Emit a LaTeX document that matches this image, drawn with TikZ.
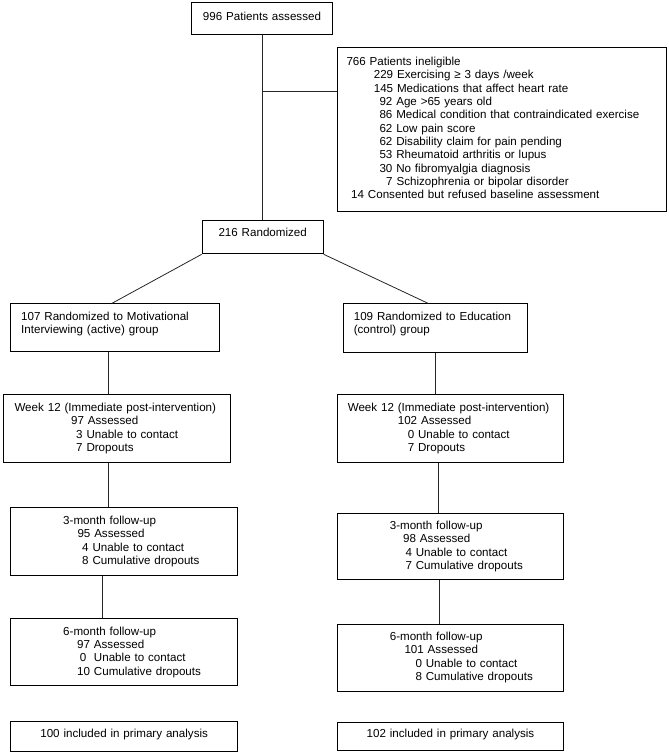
\documentclass[tikz,border=0pt]{standalone}
\usepackage{fontspec}
\setmainfont{Liberation Sans}
\tikzset{
    mybox/.style = {rectangle, draw=black, line width=1pt, anchor=north west, inner ysep=0pt, align=left, font=\fontsize{11.6}{13.33}\selectfont, text=black},
    myboxc/.style = {mybox, align=center},
    edgen/.style = {-, line width=0.8pt, black!85},
}

\begin{document}
\begin{tikzpicture}[x=1pt, y=-1pt]
  \useasboundingbox (0,0) rectangle (669,756);

  % screening
  \node[myboxc, text width=133pt, inner xsep=4pt, text height=18pt, text depth=13.5pt] (assess) at (191,2) {996 Patients assessed};
  \node[mybox, text width=310.4pt, inner xsep=9.3pt, text height=17.7pt, text depth=146pt] (inel) at (336.7,47.3)
    {766 Patients ineligible\\
     \hspace*{27.3pt}229 Exercising ≥ 3 days /week\\
     \hspace*{27.3pt}145 Medications that affect heart rate\\
     \hspace*{33pt}92 Age >65 years old\\
     \hspace*{33pt}86 Medical condition that contraindicated exercise\\
     \hspace*{33pt}62 Low pain score\\
     \hspace*{33pt}62 Disability claim for pain pending\\
     \hspace*{33pt}53 Rheumatoid arthritis or lupus\\
     \hspace*{33pt}30 No fibromyalgia diagnosis\\
     \hspace*{39.7pt}7 Schizophrenia or bipolar disorder\\
     \hspace*{4.7pt}14 Consented but refused baseline assessment};
  \node[myboxc, text width=113pt, inner xsep=4pt, text height=15.7pt, text depth=17.3pt] (rand) at (201.7,220.3) {216 Randomized};

  % groups
  \node[mybox, text width=187.6pt, inner xsep=10.7pt, text height=16.4pt, text depth=31.6pt] (grpA) at (10,303.3)
    {107 Randomized to Motivational\\ Interviewing (active) group};
  \node[mybox, text width=163.4pt, inner xsep=10pt, text height=16.4pt, text depth=32pt] (grpB) at (343.3,303.3)
    {109 Randomized to Education\\ (control) group};

  % week 12
  \node[mybox, text width=205.3pt, inner xsep=10.7pt, text height=17pt, text depth=51pt] (weekA) at (3.3,394)
    {Week 12 (Immediate post-intervention)\\
     \hspace*{56.7pt}97 Assessed\\
     \hspace*{61.7pt}3 Unable to contact\\
     \hspace*{61.7pt}7 Dropouts};
  \node[mybox, text width=205.4pt, inner xsep=10.6pt, text height=17pt, text depth=51pt] (weekB) at (336.7,394)
    {Week 12 (Immediate post-intervention)\\
     \hspace*{50pt}102 Assessed\\
     \hspace*{60pt}0 Unable to contact\\
     \hspace*{60pt}7 Dropouts};

  % follow-ups
  \node[mybox, text width=207.3pt, inner xsep=10pt, text height=16.7pt, text depth=51pt] (mthreeA) at (10,507.3)
    {\hspace*{42.7pt}3-month follow-up\\
     \hspace*{57pt}95 Assessed\\
     \hspace*{61.7pt}4 Unable to contact\\
     \hspace*{61.7pt}8 Cumulative dropouts};
  \node[mybox, text width=206.6pt, inner xsep=10pt, text height=16.3pt, text depth=50.3pt] (mthreeB) at (336.7,512.7)
    {\hspace*{42.6pt}3-month follow-up\\
     \hspace*{56pt}98 Assessed\\
     \hspace*{58.3pt}4 Unable to contact\\
     \hspace*{58.3pt}7 Cumulative dropouts};
  \node[mybox, text width=207.3pt, inner xsep=10pt, text height=16.4pt, text depth=50.3pt] (msixA) at (10,618.3)
    {\hspace*{42.7pt}6-month follow-up\\
     \hspace*{56.7pt}97 Assessed\\
     \hspace*{59.3pt}0\ \ Unable to contact\\
     \hspace*{56.7pt}10 Cumulative dropouts};
  \node[mybox, text width=206.6pt, inner xsep=10pt, text height=16pt, text depth=51pt] (msixB) at (336.7,624)
    {\hspace*{42.6pt}6-month follow-up\\
     \hspace*{57.3pt}101 Assessed\\
     \hspace*{68.3pt}0 Unable to contact\\
     \hspace*{68.3pt}8 Cumulative dropouts};

  % analysis
  \node[myboxc, text width=219.3pt, inner xsep=4pt, text height=16.3pt, text depth=13.4pt] (finA) at (10,721) {100 included in primary analysis};
  \node[myboxc, text width=218.6pt, inner xsep=4pt, text height=15.6pt, text depth=12.7pt] (finB) at (336.7,721.7) {102 included in primary analysis};

  % connectors
  \coordinate (split) at ([yshift=-56.8pt]assess.south);
  \draw[edgen] (assess.south) -- (assess.south |- rand.north);
  \draw[edgen] (split) -- (split -| inel.west);
  \draw[edgen] (rand.south west) -- ([xshift=102pt]grpA.north west);
  \draw[edgen] (rand.south east) -- ([xshift=84.7pt]grpB.north west);
  \draw[edgen] ([xshift=98.7pt]grpA.south west) -- ([xshift=105.4pt]weekA.north west);
  \draw[edgen] ([xshift=105.2pt]weekA.south west) -- ([xshift=98.5pt]mthreeA.north west);
  \draw[edgen] ([xshift=92.7pt]mthreeA.south west) -- ([xshift=92.7pt]msixA.north west);
  \draw[edgen] ([xshift=91.7pt]grpB.south west) -- ([xshift=98.3pt]weekB.north west);
  \draw[edgen] ([xshift=102pt]weekB.south west) -- ([xshift=102pt]mthreeB.north west);
  \draw[edgen] ([xshift=102.3pt]mthreeB.south west) -- ([xshift=102.3pt]msixB.north west);
\end{tikzpicture}
\end{document}
